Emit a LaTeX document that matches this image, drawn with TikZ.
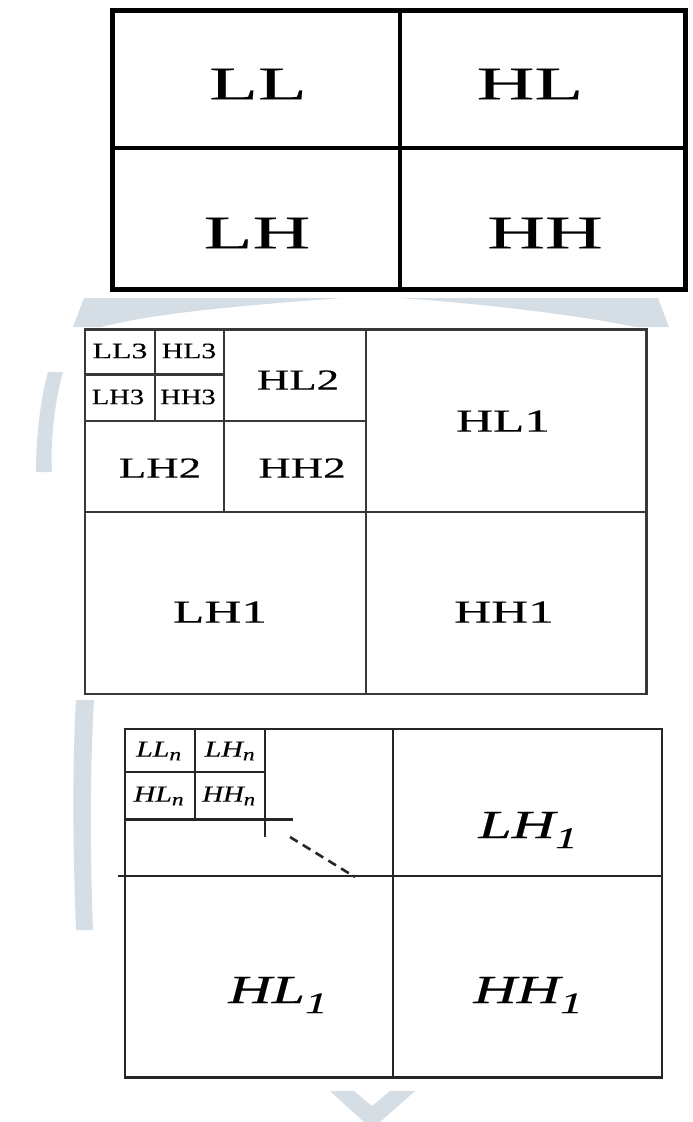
\documentclass[tikz,border=0pt]{standalone}
\usepackage{fontspec}
\setmainfont{Liberation Serif}
\newfontfamily\heavy[FakeBold=0.3, ItalicFeatures={FakeBold=0.3}]{Liberation Serif}
\usepackage{graphicx}
\newcommand{\wx}[2][1.75]{\scalebox{#1}[1]{#2}}
\newcommand{\fsz}[1]{\fontsize{#1}{#1}\selectfont}
\definecolor{wmc}{RGB}{213,222,229}
\begin{document}
\begin{tikzpicture}[x=1pt,y=-1pt,
  lbl/.style={inner sep=0pt, anchor=center, text=black},
  pA/.style={line width=4pt, black},
  pAo/.style={line width=5pt, black, line join=miter},
  pB/.style={line width=2.3pt, black!78},
  pC/.style={line width=2.6pt, black!85},
  wm/.style={fill=wmc}]
\useasboundingbox (0,0) rectangle (693,1122);
\fill[white] (0,0) rectangle (693,1122);

% ---------- faint watermark ----------
\fill[wm] (73,327) -- (84,298) -- (342,298) .. controls (250,305) and (160,312) .. (101,327) -- cycle;
\fill[wm] (400,298) -- (658,298) -- (669,327) -- (636,327) .. controls (560,312) and (470,303) .. (400,298) -- cycle;
\fill[wm] (48,372) -- (63,372) .. controls (55,400) and (50,440) .. (52,472) -- (36,472) .. controls (36,440) and (40,400) .. (48,372) -- cycle;
\fill[wm] (76,700) -- (94,700) .. controls (90,770) and (90,850) .. (93,930) -- (76,930) .. controls (73,850) and (72,770) .. (76,700) -- cycle;
\fill[wm] (330,1091) -- (354,1091) -- (372,1106) -- (390,1091) -- (415,1091) -- (380,1122) -- (364,1122) -- cycle;

% ---------- panel 1 ----------
\fill[white] (112.5,10) rectangle (685,289.5);
\draw[pA] (400,10) -- (400,289.5);
\draw[pA] (112.5,147.5) -- (685,147.5);
\draw[pAo] (112.5,10) rectangle (685,289.5);
\node[lbl, font=\fsz{47}\heavy] (ll) at (258,84) {\wx[1.7]{LL}};
\node[lbl, font=\fsz{47}\heavy] (hl) at (530,84) {\wx[1.7]{HL}};
\node[lbl, font=\fsz{47}\heavy] (lh) at (257,233) {\wx[1.7]{LH}};
\node[lbl, font=\fsz{47}\heavy] (hh) at (545,233) {\wx[1.7]{HH}};

% ---------- panel 2 ----------
\fill[white] (85,329.5) rectangle (646.5,694);
\draw[pB] (85,329.5) rectangle (646.5,694);
\draw[pB] (366,329.5) -- (366,694);
\draw[pB] (85,512) -- (646.5,512);
\draw[pB] (224,329.5) -- (224,512);
\draw[pB] (85,421) -- (366,421);
\draw[pB] (155,329.5) -- (155,421);
\draw[pB] (85,374.5) -- (224,374.5);
\node[lbl, font=\fsz{22}\heavy] (ll3) at (120,351) {\wx[1.45]{LL3}};
\node[lbl, font=\fsz{22}\heavy] (hl3) at (189,351) {\wx[1.35]{HL3}};
\node[lbl, font=\fsz{22}\heavy] (lh3) at (118,397) {\wx[1.3]{LH3}};
\node[lbl, font=\fsz{22}\heavy] (hh3) at (188,397) {\wx[1.3]{HH3}};
\node[lbl, font=\fsz{29}\heavy] (hl2) at (298,380) {\wx[1.55]{HL2}};
\node[lbl, font=\fsz{29}\heavy] (lh2) at (160,468) {\wx[1.55]{LH2}};
\node[lbl, font=\fsz{29}\heavy] (hh2) at (302,468) {\wx[1.55]{HH2}};
\node[lbl, font=\fsz{32}\heavy] (hl1) at (503,421) {\wx[1.6]{HL1}};
\node[lbl, font=\fsz{32}\heavy] (lh1) at (220,612) {\wx[1.6]{LH1}};
\node[lbl, font=\fsz{32}\heavy] (hh1) at (504,612) {\wx[1.6]{HH1}};

% ---------- panel 3 ----------
\fill[white] (125,729) rectangle (662,1077.5);
\draw[pC] (125,729) rectangle (662,1077.5);
\draw[pC] (393,729) -- (393,1077.5);
\draw[pC] (118,876) -- (662,876);
\draw[pC] (195,729) -- (195,819.5);
\draw[pC] (265,729) -- (265,837);
\draw[pC] (125,772) -- (265,772);
\draw[pC] (125,819.5) -- (293,819.5);
\coordinate (d1) at (290,837);
\coordinate (d2) at (355,877);
\draw[pC, dash pattern=on 9pt off 6pt] (d1) -- (d2);
\node[lbl, font=\fsz{23}\heavy\itshape] (lln) at (159,751) {\wx[1.3]{LL\textsubscript{\fsz{18}n}}};
\node[lbl, font=\fsz{23}\heavy\itshape] (lhn) at (230,751) {\wx[1.3]{LH\textsubscript{\fsz{18}n}}};
\node[lbl, font=\fsz{23}\heavy\itshape] (hln) at (159,796) {\wx[1.3]{HL\textsubscript{\fsz{18}n}}};
\node[lbl, font=\fsz{23}\heavy\itshape] (hhn) at (229,796) {\wx[1.25]{HH\textsubscript{\fsz{18}n}}};
\node[lbl, font=\fsz{40}\heavy\itshape] (lhone) at (528,830) {\wx[1.5]{LH\raisebox{-0.25em}{\fsz{30}1}}};
\node[lbl, font=\fsz{40}\heavy\itshape] (hlone) at (278,995) {\wx[1.5]{HL\raisebox{-0.25em}{\fsz{30}1}}};
\node[lbl, font=\fsz{40}\heavy\itshape] (hhone) at (528,995) {\wx[1.5]{HH\raisebox{-0.25em}{\fsz{30}1}}};
\end{tikzpicture}
\end{document}
